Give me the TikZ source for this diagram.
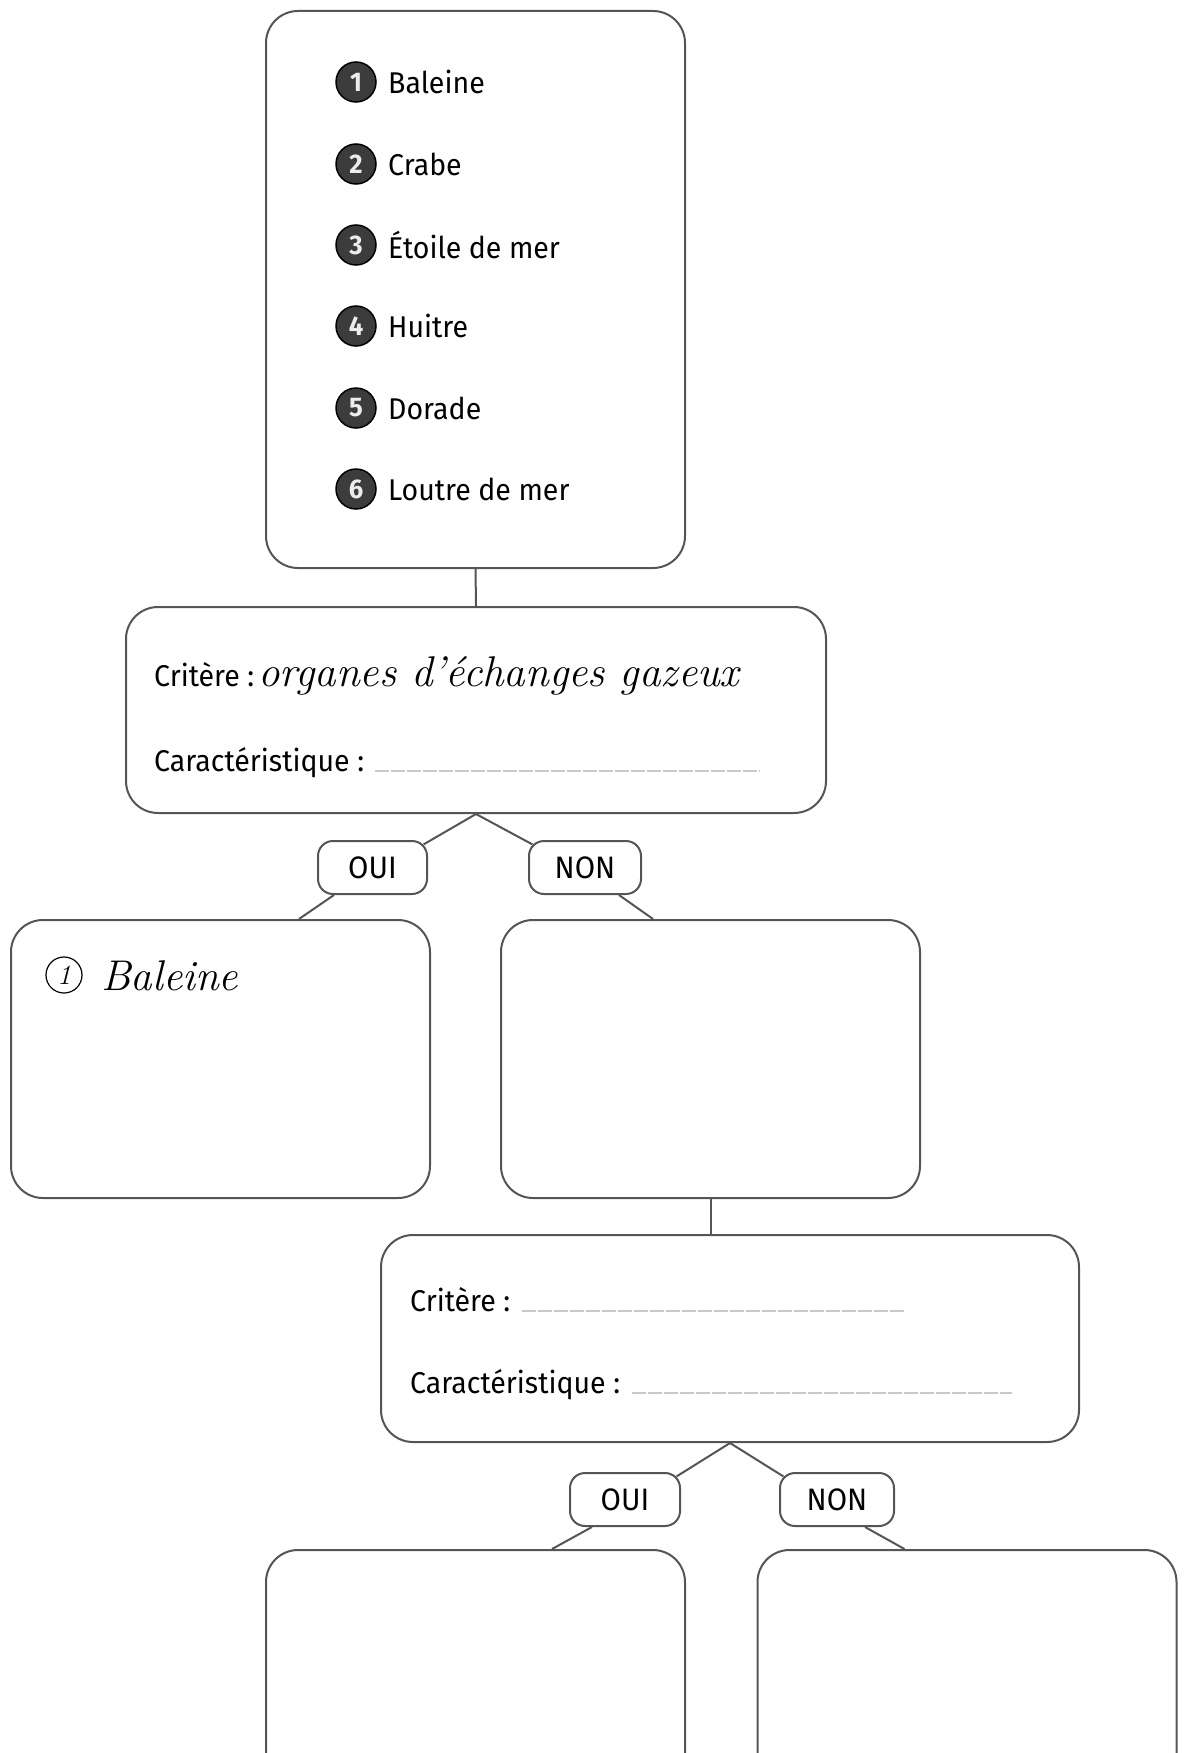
\documentclass[tikz,border=0pt]{standalone}
\usepackage{fontspec}
\usetikzlibrary{calc}
\newfontfamily\labelfont[FakeStretch=0.95]{Fira Sans}
\definecolor{boxline}{HTML}{555555}
\definecolor{dotfill}{HTML}{3C3C3C}
\definecolor{dashgray}{HTML}{C8C8C8}
\tikzset{
  bigbox/.style={draw=boxline, line width=2pt, rounded corners=32pt, rectangle, inner sep=0pt},
  tagbox/.style={draw=boxline, line width=2pt, rounded corners=15pt, rectangle, inner sep=0pt, font=\labelfont\fontsize{31}{34}\selectfont},
  link/.style={draw=boxline, line width=2pt},
  numdot/.style={circle, fill=dotfill, draw=black, line width=1.5pt, minimum size=40pt, inner sep=0pt, text=white!85!gray, font=\labelfont\bfseries\fontsize{27}{28}\selectfont},
  item/.style={anchor=west, inner sep=0pt, font=\labelfont\fontsize{30}{34}\selectfont},
  lbl/.style={anchor=base west, inner sep=0pt, font=\labelfont\fontsize{30}{34}\selectfont},
  script/.style={anchor=base west, inner sep=0pt, font=\itshape\fontsize{43}{46}\selectfont},
  blank/.style={draw=dashgray, line width=1.2pt, dash pattern=on 14pt off 2pt}
}
\begin{document}
\begin{tikzpicture}[x=1pt, y=-1pt]
\useasboundingbox (0,0) rectangle (1184,1753);
\clip (0,0) rectangle (1184,1753);
% top list box
\node[bigbox, minimum width=419pt, minimum height=557pt] (list) at (475.5,289.5) {};
\foreach \n/\t/\y in {1/Baleine/82, 2/Crabe/164, 3/Étoile de mer/245, 4/Huitre/326, 5/Dorade/408, 6/Loutre de mer/489}{
  \node[numdot] (d\n) at (356,\y) {\n};
  \node[item] (t\n) at (388,\y) {\t};
}
% first criterion box
\node[bigbox, minimum width=700pt, minimum height=206pt] (crit1) at (476,710) {};
\node[lbl] (c1a) at (154,686) {Critère :};
\node[script] (c1s) at (258,686) {organes d’échanges gazeux};
\node[lbl] (c1b) at (154,771) {Caractéristique :};
\coordinate (c1d) at (375,771);
\draw[blank] (c1d) -- ++(385,0);
\node[tagbox, minimum width=109pt, minimum height=53pt] (oui1) at (372.5,867.5) {OUI};
\node[tagbox, minimum width=112pt, minimum height=53pt] (non1) at (585,867.5) {NON};
\node[bigbox, minimum width=419pt, minimum height=278pt] (leftbox) at (220.5,1059) {};
\node[bigbox, minimum width=419pt, minimum height=278pt] (rightbox) at (710.5,1059) {};
\node[circle, draw=black, line width=1.2pt, minimum size=36pt, inner sep=0pt, font=\itshape\fontsize{28}{30}\selectfont] (b1) at (64,975) {1};
\node[script] (bal) at (101,990) {Baleine};
% second criterion box
\node[bigbox, minimum width=698pt, minimum height=207pt] (crit2) at (730,1338.5) {};
\node[lbl] (c2a) at (410,1311) {Critère :};
\coordinate (c2d) at (522,1311);
\draw[blank] (c2d) -- ++(384,0);
\node[lbl] (c2b) at (410,1393) {Caractéristique :};
\coordinate (c2e) at (632,1393);
\draw[blank] (c2e) -- ++(380,0);
\node[tagbox, minimum width=110pt, minimum height=53pt] (oui2) at (625,1499.5) {OUI};
\node[tagbox, minimum width=114pt, minimum height=53pt] (non2) at (837,1499.5) {NON};
\node[bigbox, minimum width=419pt, minimum height=278pt] (bl) at (475.5,1689) {};
\node[bigbox, minimum width=419pt, minimum height=278pt] (br) at (967,1689) {};
% connectors
\draw[link] (list.south) -- (crit1.north);
\draw[link] (crit1.south) -- ($(oui1.north east)+(-4.4,4.4)$);
\draw[link] (crit1.south) -- ($(non1.north west)+(4.4,4.4)$);
\draw[link] ($(oui1.south west)+(17,0)$) -- ($(leftbox.north west)+(289,0)$);
\draw[link] ($(non1.south east)+(-23,0)$) -- ($(rightbox.north west)+(153,0)$);
\draw[link] (rightbox.south) -- (rightbox.south |- crit2.north);
\draw[link] (crit2.south) -- ($(oui2.north east)+(-4.4,4.4)$);
\draw[link] (crit2.south) -- ($(non2.north west)+(4.4,4.4)$);
\draw[link] ($(oui2.south west)+(23,0)$) -- ($(bl.north west)+(287,0)$);
\draw[link] ($(non2.south east)+(-30,0)$) -- ($(br.north west)+(148,0)$);
\end{tikzpicture}
\end{document}
